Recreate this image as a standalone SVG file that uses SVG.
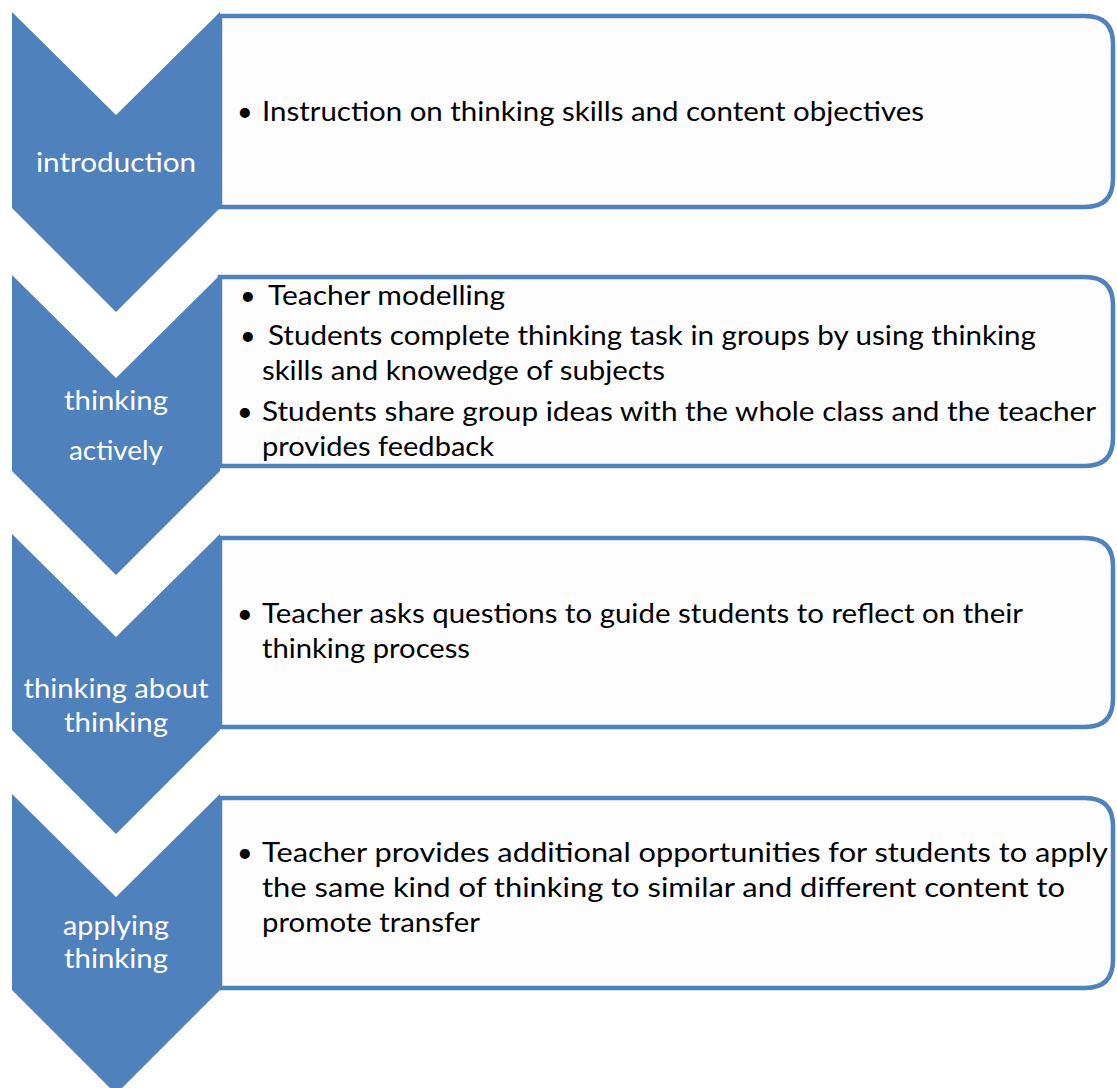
<svg xmlns="http://www.w3.org/2000/svg" width="1117" height="1088" viewBox="0 0 1117 1088">
<style>
.chev{fill:#4F81BD}
.box{fill:#FDFDFD;stroke:#4F81BD;stroke-width:4.5}
.lbl{font-family:Lato,"Open Sans","Liberation Sans",sans-serif;font-size:26px;fill:#FFFFFF;text-anchor:middle}
.txt{font-family:Lato,"Open Sans","Liberation Sans",sans-serif;font-size:27px;fill:#000000}
</style>
<rect width="1117" height="1088" fill="#FFFFFF"/>
<g id="step1">
<path class="box" d="M220 16 H1085 Q1113 16 1113 44 V179 Q1113 207 1085 207 H220 Z"/>
<path class="chev" d="M12 12 L116 115 L220 12 L220 208 L116 312 L12 208 Z"/>
<text class="lbl" x="116" y="172" textLength="160" lengthAdjust="spacingAndGlyphs">introduction</text>
<text class="txt" x="237" y="121">•</text>
<text class="txt" x="262" y="121" textLength="662" lengthAdjust="spacingAndGlyphs">Instruction on thinking skills and content objectives</text>
</g>
<g id="step2">
<path class="box" d="M220 277 H1085 Q1113 277 1113 305 V438 Q1113 466 1085 466 H220 Z"/>
<path class="chev" d="M12 275 L116 378 L220 275 L220 471 L116 575 L12 471 Z"/>
<text class="lbl" x="116" y="410" textLength="104" lengthAdjust="spacingAndGlyphs">thinking</text>
<text class="lbl" x="116" y="460" textLength="94" lengthAdjust="spacingAndGlyphs">actively</text>
<text class="txt" x="240" y="305">•</text>
<text class="txt" x="268" y="305" textLength="237" lengthAdjust="spacingAndGlyphs">Teacher modelling</text>
<text class="txt" x="240" y="345">•</text>
<text class="txt" x="268" y="345" textLength="768" lengthAdjust="spacingAndGlyphs">Students complete thinking task in groups by using thinking</text>
<text class="txt" x="262" y="380" textLength="403" lengthAdjust="spacingAndGlyphs">skills and knowedge of subjects</text>
<text class="txt" x="237" y="421">•</text>
<text class="txt" x="262" y="421" textLength="834" lengthAdjust="spacingAndGlyphs">Students share group ideas with the whole class and the teacher</text>
<text class="txt" x="262" y="456" textLength="232" lengthAdjust="spacingAndGlyphs">provides feedback</text>
</g>
<g id="step3">
<path class="box" d="M220 538 H1085 Q1113 538 1113 566 V699 Q1113 727 1085 727 H220 Z"/>
<path class="chev" d="M12 534 L116 637 L220 534 L220 730 L116 834 L12 730 Z"/>
<text class="lbl" x="116" y="698" textLength="185" lengthAdjust="spacingAndGlyphs">thinking about</text>
<text class="lbl" x="116" y="732" textLength="104" lengthAdjust="spacingAndGlyphs">thinking</text>
<text class="txt" x="237" y="623">•</text>
<text class="txt" x="262" y="623" textLength="761" lengthAdjust="spacingAndGlyphs">Teacher asks questions to guide students to reflect on their</text>
<text class="txt" x="262" y="658" textLength="208" lengthAdjust="spacingAndGlyphs">thinking process</text>
</g>
<g id="step4">
<path class="box" d="M220 798 H1085 Q1113 798 1113 826 V960 Q1113 988 1085 988 H220 Z"/>
<path class="chev" d="M12 794 L116 897 L220 794 L220 990 L116 1094 L12 990 Z"/>
<text class="lbl" x="116" y="935" textLength="106" lengthAdjust="spacingAndGlyphs">applying</text>
<text class="lbl" x="116" y="968" textLength="104" lengthAdjust="spacingAndGlyphs">thinking</text>
<text class="txt" x="237" y="862">•</text>
<text class="txt" x="262" y="862" textLength="846" lengthAdjust="spacingAndGlyphs">Teacher provides additional opportunities for students to apply</text>
<text class="txt" x="262" y="897" textLength="803" lengthAdjust="spacingAndGlyphs">the same kind of thinking to similar and different content to</text>
<text class="txt" x="262" y="932" textLength="218" lengthAdjust="spacingAndGlyphs">promote transfer</text>
</g>
<g id="connectors"></g>
</svg>
